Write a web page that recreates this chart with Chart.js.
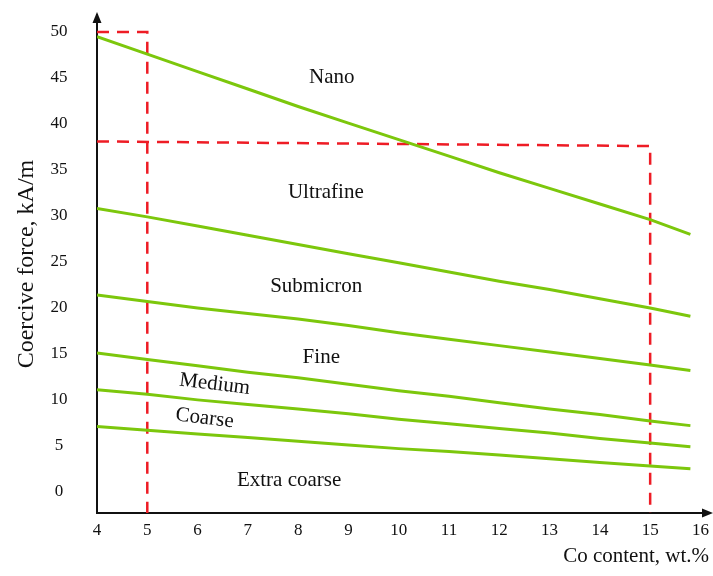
<!DOCTYPE html>
<html>
<head>
<meta charset="utf-8">
<script src="https://cdn.jsdelivr.net/npm/chart.js"></script>
<style>
html,body{margin:0;padding:0;background:#fff;}
#wrap{width:713px;height:576px;}
</style>
</head>
<body>
<div id="wrap"><canvas id="c" width="713" height="576"></canvas></div>
<script>
// ---- data ----
const coContent = [4, 5, 6, 7, 8, 9, 10, 11, 12, 13, 14, 15, 15.8];
const nanoUltrafine      = [49.5, 47.6, 45.7, 43.8, 41.9, 40.1, 38.3, 36.5, 34.7, 33.0, 31.3, 29.6, 28.0];
const ultrafineSubmicron = [30.8, 29.9, 28.9, 27.9, 26.9, 25.9, 24.9, 23.9, 22.9, 22.0, 21.0, 20.0, 19.1];
const submicronFine      = [21.4, 20.7, 20.0, 19.4, 18.8, 18.1, 17.3, 16.6, 15.9, 15.2, 14.5, 13.8, 13.2];
const fineMedium         = [15.1, 14.4, 13.7, 13.0, 12.4, 11.7, 11.0, 10.4, 9.7, 9.0, 8.4, 7.7, 7.2];
const mediumCoarse       = [11.1, 10.6, 10.0, 9.5, 9.0, 8.5, 7.9, 7.4, 6.9, 6.4, 5.8, 5.3, 4.9];
const coarseExtraCoarse  = [7.1, 6.7, 6.3, 5.9, 5.5, 5.1, 4.7, 4.4, 4.0, 3.6, 3.2, 2.8, 2.5];

const xTicks = [4, 5, 6, 7, 8, 9, 10, 11, 12, 13, 14, 15, 16];
const yTicks = [0, 5, 10, 15, 20, 25, 30, 35, 40, 45, 50];
const xMin = 4, xMax = 16.17;
const yMin = -2.3, yMax = 51.85;

// red dashed guide boxes (Co 5 % and Co 15 %)
const guide5X  = [4, 5, 5];
const guide5Y  = [50, 50, yMin];
const guide15X = [4, 15, 15];
const guide15Y = [38.1, 37.6, yMin];

// region names and their anchor in data units
const regionNames = ['Nano', 'Ultrafine', 'Submicron', 'Fine', 'Medium', 'Coarse', 'Extra coarse'];
const regionX = [8.67, 8.55, 8.36, 8.46, 6.34, 6.14, 7.82];
const regionY = [45.1, 32.6, 22.3, 14.6, 11.7, 8.0, 1.2];
const regionTilt = [0, 0, 0, 0, 7, 7, 0];

// ---- build ----
const pts = (xs, ys) => xs.map((v, i) => ({x: v, y: ys[i]}));
const GREEN = '#7cc70c';
const RED = '#ee1c25';
const FONT = '"Liberation Serif", "Times New Roman", serif';

const boundaries = [nanoUltrafine, ultrafineSubmicron, submicronFine, fineMedium, mediumCoarse, coarseExtraCoarse];
const datasets = boundaries.map(s => ({
  data: pts(coContent, s),
  borderColor: GREEN, borderWidth: 3, pointRadius: 0, tension: 0, fill: false
}));
datasets.push({data: pts(guide5X, guide5Y), borderColor: RED, borderWidth: 2.5, borderDash: [12, 8], pointRadius: 0, tension: 0, fill: false});
datasets.push({data: pts(guide15X, guide15Y), borderColor: RED, borderWidth: 2.5, borderDash: [12, 8], borderJoinStyle: 'round', pointRadius: 0, tension: 0, fill: false});

const decor = {
  id: 'decor',
  afterDraw(chart) {
    const {ctx, chartArea: a, scales: {x, y}} = chart;
    ctx.save();
    ctx.fillStyle = '#111';
    ctx.font = '21px ' + FONT;
    ctx.textAlign = 'center';
    ctx.textBaseline = 'middle';
    regionNames.forEach((t, i) => {
      const px = x.getPixelForValue(regionX[i]);
      const py = y.getPixelForValue(regionY[i]);
      ctx.save();
      ctx.translate(px, py);
      ctx.rotate(regionTilt[i] * Math.PI / 180);
      ctx.fillText(t, 0, 0);
      ctx.restore();
    });
    // arrow heads
    ctx.fillStyle = '#111';
    ctx.beginPath();
    ctx.moveTo(a.left, a.top - 3);
    ctx.lineTo(a.left - 4.5, a.top + 8);
    ctx.lineTo(a.left + 4.5, a.top + 8);
    ctx.closePath();
    ctx.fill();
    ctx.beginPath();
    ctx.moveTo(a.right + 4, a.bottom);
    ctx.lineTo(a.right - 7, a.bottom - 4.5);
    ctx.lineTo(a.right - 7, a.bottom + 4.5);
    ctx.closePath();
    ctx.fill();
    ctx.restore();
  }
};

new Chart(document.getElementById('c'), {
  type: 'line',
  data: {datasets},
  options: {
    responsive: false,
    animation: false,
    events: [],
    layout: {padding: {top: 15, right: 4, left: 0, bottom: 0}},
    plugins: {legend: {display: false}, tooltip: {enabled: false}},
    scales: {
      x: {
        type: 'linear', min: xMin, max: xMax,
        afterBuildTicks: s => { s.ticks = xTicks.map(v => ({value: v})); },
        afterFit: s => { s.height = 63; },
        grid: {display: false, drawTicks: true, tickLength: 7, tickColor: 'rgba(0,0,0,0)'},
        border: {display: true, color: '#111', width: 2},
        ticks: {color: '#111', font: {family: FONT, size: 17}, padding: 0, maxRotation: 0, autoSkip: false},
        title: {display: true, text: 'Co content, wt.%', align: 'end', color: '#111',
                font: {family: FONT, size: 21}, padding: {top: 0, bottom: 7.4}}
      },
      y: {
        type: 'linear', min: yMin, max: yMax,
        afterBuildTicks: s => { s.ticks = yTicks.map(v => ({value: v})); },
        afterFit: s => { s.width = 97; },
        grid: {display: false, drawTicks: true, tickLength: 29.5, tickColor: 'rgba(0,0,0,0)'},
        border: {display: true, color: '#111', width: 2},
        ticks: {color: '#111', font: {family: FONT, size: 17}, padding: 0, crossAlign: 'center', autoSkip: false},
        title: {display: true, text: 'Coercive force, kA/m', color: '#111',
                font: {family: FONT, size: 24}, padding: {top: 12.5, bottom: 0}}
      }
    }
  },
  plugins: [decor]
});
</script>
</body>
</html>
